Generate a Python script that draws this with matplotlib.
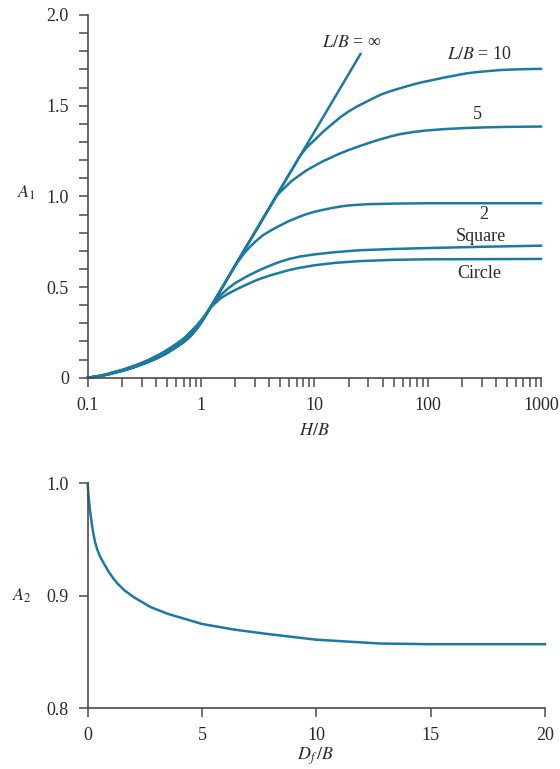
import matplotlib
matplotlib.use('Agg')
import matplotlib.pyplot as plt
from matplotlib.ticker import LogLocator, NullFormatter, FixedLocator, MultipleLocator

plt.rcParams['font.family'] = ['Liberation Serif', 'DejaVu Serif']
plt.rcParams['mathtext.fontset'] = 'stix'

# A1 vs H/B
# lower part, shared by the rectangular footings (L/B = 2, 5, 10, inf)
hb_low = [0.1, 0.115, 0.13, 0.15, 0.17, 0.2, 0.25, 0.3, 0.35, 0.42, 0.5, 0.6, 0.7, 0.8, 0.9, 1.0, 1.1, 1.2]
a1_low_rect = [0, 0.005, 0.01, 0.018, 0.027, 0.038, 0.056, 0.074, 0.09, 0.112, 0.137, 0.168, 0.197, 0.228,
               0.265, 0.305, 0.345, 0.385]
# lower part, shared by square and circle
a1_low_round = [0, 0.006, 0.012, 0.021, 0.031, 0.043, 0.063, 0.082, 0.1, 0.125, 0.152, 0.185, 0.215, 0.25,
                0.283, 0.316, 0.35, 0.385]

hb_inf = [1.5, 2.0, 3.0, 5.0, 10.0, 25.5]
a1_inf = [0.487, 0.62, 0.805, 1.04, 1.356, 1.785]

hb_10 = [1.5, 2.0, 3.0, 5.0, 7.4, 8.5, 10, 12, 14.6, 17, 20, 24, 28.8, 34, 40, 48, 57, 68, 80, 95,
         112, 135, 160, 190, 220, 270, 330, 450, 600, 800, 1000]
a1_10 = [0.487, 0.62, 0.805, 1.04, 1.22, 1.268, 1.31, 1.358, 1.403, 1.437, 1.468, 1.497, 1.522, 1.545, 1.565,
         1.582, 1.596, 1.61, 1.622, 1.633, 1.642, 1.653, 1.662, 1.671, 1.678, 1.685, 1.69, 1.697, 1.7, 1.702, 1.703]

hb_5 = [1.5, 2.0, 3.0, 4.6, 5.0, 5.5, 6.3, 7.4, 8.5, 10, 12, 14.6, 17, 20, 24, 28.8, 34, 40, 48, 57,
        75, 100, 150, 220, 350, 500, 1000]
a1_5 = [0.487, 0.62, 0.805, 1.0, 1.025, 1.05, 1.085, 1.117, 1.143, 1.168, 1.195, 1.219, 1.238, 1.255, 1.273,
        1.29, 1.305, 1.318, 1.332, 1.343, 1.355, 1.364, 1.372, 1.377, 1.381, 1.383, 1.385]

hb_2 = [1.5, 2.0, 2.2, 2.4, 2.7, 3.0, 3.5, 4.2, 5.0, 6.0, 7.4, 8.5, 10, 12, 14, 17, 20, 25, 30, 50, 100, 1000]
a1_2 = [0.487, 0.62, 0.655, 0.687, 0.722, 0.75, 0.785, 0.815, 0.84, 0.865, 0.888, 0.902, 0.915, 0.926, 0.935,
        0.944, 0.95, 0.954, 0.957, 0.96, 0.962, 0.962]

hb_sq = [1.35, 1.5, 1.75, 2.0, 2.5, 3.0, 3.4, 4.2, 5.0, 6.0, 7.4, 10, 15, 25, 50, 100, 300, 1000]
a1_sq = [0.425, 0.458, 0.495, 0.522, 0.557, 0.582, 0.598, 0.622, 0.64, 0.655, 0.668, 0.68, 0.692, 0.703,
         0.71, 0.715, 0.722, 0.728]

hb_ci = [1.35, 1.5, 1.75, 2.0, 2.5, 3.0, 3.4, 4.2, 5.0, 6.0, 7.4, 10, 15, 25, 50, 100, 1000]
a1_ci = [0.415, 0.44, 0.465, 0.484, 0.513, 0.535, 0.548, 0.567, 0.58, 0.594, 0.606, 0.62, 0.633, 0.643,
         0.65, 0.653, 0.655]

# A2 vs Df/B
dfb = [0, 0.03, 0.1, 0.18, 0.25, 0.32, 0.42, 0.54, 0.7, 0.9, 1.1, 1.3, 1.6, 2.0, 2.75, 3.5, 5.0, 6.4, 7.9,
       10.0, 12.8, 15.0, 17.0, 20.0]
a2 = [1.0, 0.99, 0.976, 0.964, 0.955, 0.948, 0.941, 0.935, 0.929, 0.922, 0.916, 0.911, 0.905, 0.899, 0.89,
      0.884, 0.875, 0.87, 0.866, 0.861, 0.8576, 0.857, 0.857, 0.857]

curve_labels = ['$L/B$ = ∞', '$L/B$ = 10', '5', '2', 'Square', 'Circle']
label_x = [21.4, 288, 277, 313, 297, 288]
label_y = [1.85, 1.78, 1.45, 0.90, 0.78, 0.577]

line_color = '#1b7aa3'
text_color = '#2a2a2a'
axis_color = '#4a4a4a'
fs = 13

fig = plt.figure(figsize=(5.6, 7.69), dpi=100)
ax1 = fig.add_axes([0.157, 0.5088, 0.809, 0.4717])
ax2 = fig.add_axes([0.1566, 0.0789, 0.8164, 0.2926])

# top chart
rect = [(hb_inf, a1_inf), (hb_10, a1_10), (hb_5, a1_5), (hb_2, a1_2)]
for hb, a1 in rect:
    ax1.plot(hb_low + hb, a1_low_rect + a1, color=line_color, lw=1.8, clip_on=False)
for hb, a1 in [(hb_sq, a1_sq), (hb_ci, a1_ci)]:
    ax1.plot(hb_low + hb, a1_low_round + a1, color=line_color, lw=1.8, clip_on=False)

for txt, x, y in zip(curve_labels, label_x, label_y):
    ax1.text(x, y, txt, ha='center', va='center', fontsize=fs, color=text_color)

ax1.set_xscale('log')
ax1.set_xlim(0.1, 1000)
ax1.set_ylim(0, 2.0)
ax1.xaxis.set_major_locator(FixedLocator([0.1, 1, 10, 100, 1000]))
ax1.set_xticklabels(['0.1', '1', '10', '100', '1000'])
ax1.xaxis.set_minor_locator(LogLocator(base=10, subs=range(2, 10)))
ax1.xaxis.set_minor_formatter(NullFormatter())
ax1.yaxis.set_major_locator(FixedLocator([0, 0.5, 1.0, 1.5, 2.0]))
ax1.set_yticklabels(['0', '0.5', '1.0', '1.5', '2.0'])
ax1.yaxis.set_minor_locator(MultipleLocator(0.1))

# bottom chart
ax2.plot(dfb, a2, color=line_color, lw=1.8, clip_on=False)
ax2.set_xlim(0, 20)
ax2.set_ylim(0.8, 1.0)
ax2.set_xticks([0, 5, 10, 15, 20])
ax2.set_yticks([0.8, 0.9, 1.0])
ax2.set_yticklabels(['0.8', '0.9', '1.0'])

for ax in (ax1, ax2):
    for side in ('top', 'right'):
        ax.spines[side].set_visible(False)
    for side in ('left', 'bottom'):
        ax.spines[side].set_color(axis_color)
        ax.spines[side].set_linewidth(1.2)
    ax.tick_params(which='both', direction='out', length=6.3, width=1.1, color=axis_color,
                   labelsize=fs, labelcolor=text_color, pad=7.5)

fig.text(0.048, 0.749, r'$A_1$', fontsize=fs, color=text_color, ha='center', va='center')
fig.text(0.562, 0.440, r'$H/B$', fontsize=fs, color=text_color, ha='center', va='center')
fig.text(0.039, 0.225, r'$A_2$', fontsize=fs, color=text_color, ha='center', va='center')
fig.text(0.564, 0.016, r'$D_f\,/B$', fontsize=fs, color=text_color, ha='center', va='center')

fig.savefig('out.png', dpi=100)
